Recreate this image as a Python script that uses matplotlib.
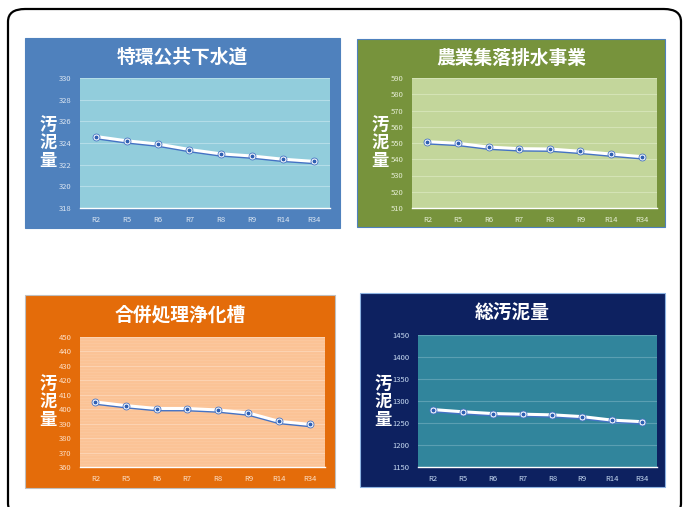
import matplotlib
matplotlib.use("Agg")
import matplotlib.pyplot as plt
import matplotlib.transforms as mtransforms
from matplotlib.patches import Rectangle, FancyBboxPatch

plt.rcParams["font.family"] = ["Noto Sans CJK JP", "DejaVu Sans"]

W, H = 683, 507

# data
years = ["R2", "R5", "R6", "R7", "R8", "R9", "R14", "R34"]
tokkan = [324.6, 324.2, 323.9, 323.4, 323.0, 322.8, 322.5, 322.3]
nouson = [550.8, 549.8, 547.5, 546.5, 546.3, 544.9, 543.2, 541.6]
gappei = [405.0, 402.5, 400.5, 400.5, 399.5, 397.4, 391.6, 389.5]
total = [1280.5, 1275.5, 1271.5, 1270.0, 1268.5, 1264.5, 1256.5, 1253.0]

titles = ["特環公共下水道", "農業集落排水事業", "合併処理浄化槽", "総汚泥量"]
ylabel = "汚\n泥\n量"

# panel styling: box (x0,y0,x1,y1) px, plot area px, colors, y ticks
PANELS = [
    dict(data=tokkan, box=(25, 38, 340, 228), plot=(80, 78, 330, 208),
         bg="#4f81bd", face="#92cddc", grid="#b4dde8", tick="#dce6f2",
         yticks=range(318, 331, 2), minor=None, edge="#4f81bd",
         title_y=57, ylab_x=48, ylab_y=143),
    dict(data=nouson, box=(357, 39, 665, 227), plot=(412, 78, 657, 208),
         bg="#77933c", face="#c3d69b", grid="#d4e3b5", tick="#e6eed5",
         yticks=range(510, 591, 10), minor=None, edge="#4f81bd",
         title_y=58, ylab_x=380, ylab_y=143),
    dict(data=gappei, box=(25, 295, 335, 488), plot=(80, 337, 325, 467),
         bg="#e46c0a", face="#fbc396", grid="#fcd3b2", tick="#fde0c8",
         yticks=range(360, 451, 10), minor=2, edge="#bfbfbf",
         title_y=315, ylab_x=48, ylab_y=402),
    dict(data=total, box=(360, 293, 665, 487), plot=(418, 335, 657, 467),
         bg="#0d2160", face="#31859c", grid="#5b9fb2", tick="#c6d9f1",
         yticks=range(1150, 1451, 50), minor=None, edge="#8db3e2",
         title_y=313, ylab_x=383, ylab_y=402),
]


def fx(x):
    return x / W


def fy(y):
    return 1 - y / H


fig = plt.figure(figsize=(W / 100, H / 100), dpi=100)
fig.patch.set_facecolor("white")

# outer rounded frame (bottom edge runs off the image)
frame = FancyBboxPatch((fx(8), fy(516)), fx(673), (516 - 9) / H,
                       boxstyle="round,pad=0,rounding_size=0.025",
                       transform=fig.transFigure, facecolor="white",
                       edgecolor="black", linewidth=1.6, zorder=-3)
fig.patches.append(frame)

for p, title in zip(PANELS, titles):
    x0, y0, x1, y1 = p["box"]
    fig.patches.append(Rectangle((fx(x0), fy(y1)), fx(x1 - x0), (y1 - y0) / H,
                                 transform=fig.transFigure, facecolor=p["bg"],
                                 edgecolor=p["edge"], linewidth=0.8, zorder=-2))
    px0, py0, px1, py1 = p["plot"]
    ax = fig.add_axes([fx(px0), fy(py1), fx(px1 - px0), (py1 - py0) / H])
    ax.set_facecolor(p["face"])
    xs = list(range(len(years)))
    yt = list(p["yticks"])
    ax.set_ylim(yt[0], yt[-1])
    ax.set_xlim(-0.5, len(years) - 0.5)

    if p["minor"]:
        for v in range(yt[0], yt[-1], p["minor"]):
            ax.axhline(v, color=p["grid"], linewidth=0.5, alpha=0.4, zorder=0)
    for v in yt[1:]:
        ax.axhline(v, color=p["grid"], linewidth=0.8, zorder=1)

    shadow = mtransforms.offset_copy(ax.transData, fig=fig, y=-1.3, units="points")
    ax.plot(xs, p["data"], color="#4472c4", linewidth=1.6, transform=shadow, zorder=3)
    ax.plot(xs, p["data"], color="white", linewidth=2.2, zorder=4)
    ax.plot(xs, p["data"], linestyle="none", marker="o", markersize=5,
            markerfacecolor="white", markeredgecolor="#4472c4",
            markeredgewidth=0.6, zorder=5)
    ax.plot(xs, p["data"], linestyle="none", marker="o", markersize=1.8,
            color="#2f5fb3", zorder=6)

    ax.set_xticks(xs)
    ax.set_xticklabels(years)
    ax.set_yticks(yt)
    ax.tick_params(length=0, labelsize=5.5, colors=p["tick"], pad=6)
    for side in ["top", "left", "right"]:
        ax.spines[side].set_visible(False)
    ax.spines["bottom"].set_color("white")
    ax.spines["bottom"].set_linewidth(1.0)

    fig.text(fx((x0 + x1) / 2), fy(p["title_y"]), title, color="white",
             fontsize=13.5, fontweight="bold", ha="center", va="center")
    fig.text(fx(p["ylab_x"]), fy(p["ylab_y"]), ylabel, color="white",
             fontsize=12.5, fontweight="bold", ha="center", va="center",
             linespacing=1.0)

fig.savefig("out.png", dpi=100)
